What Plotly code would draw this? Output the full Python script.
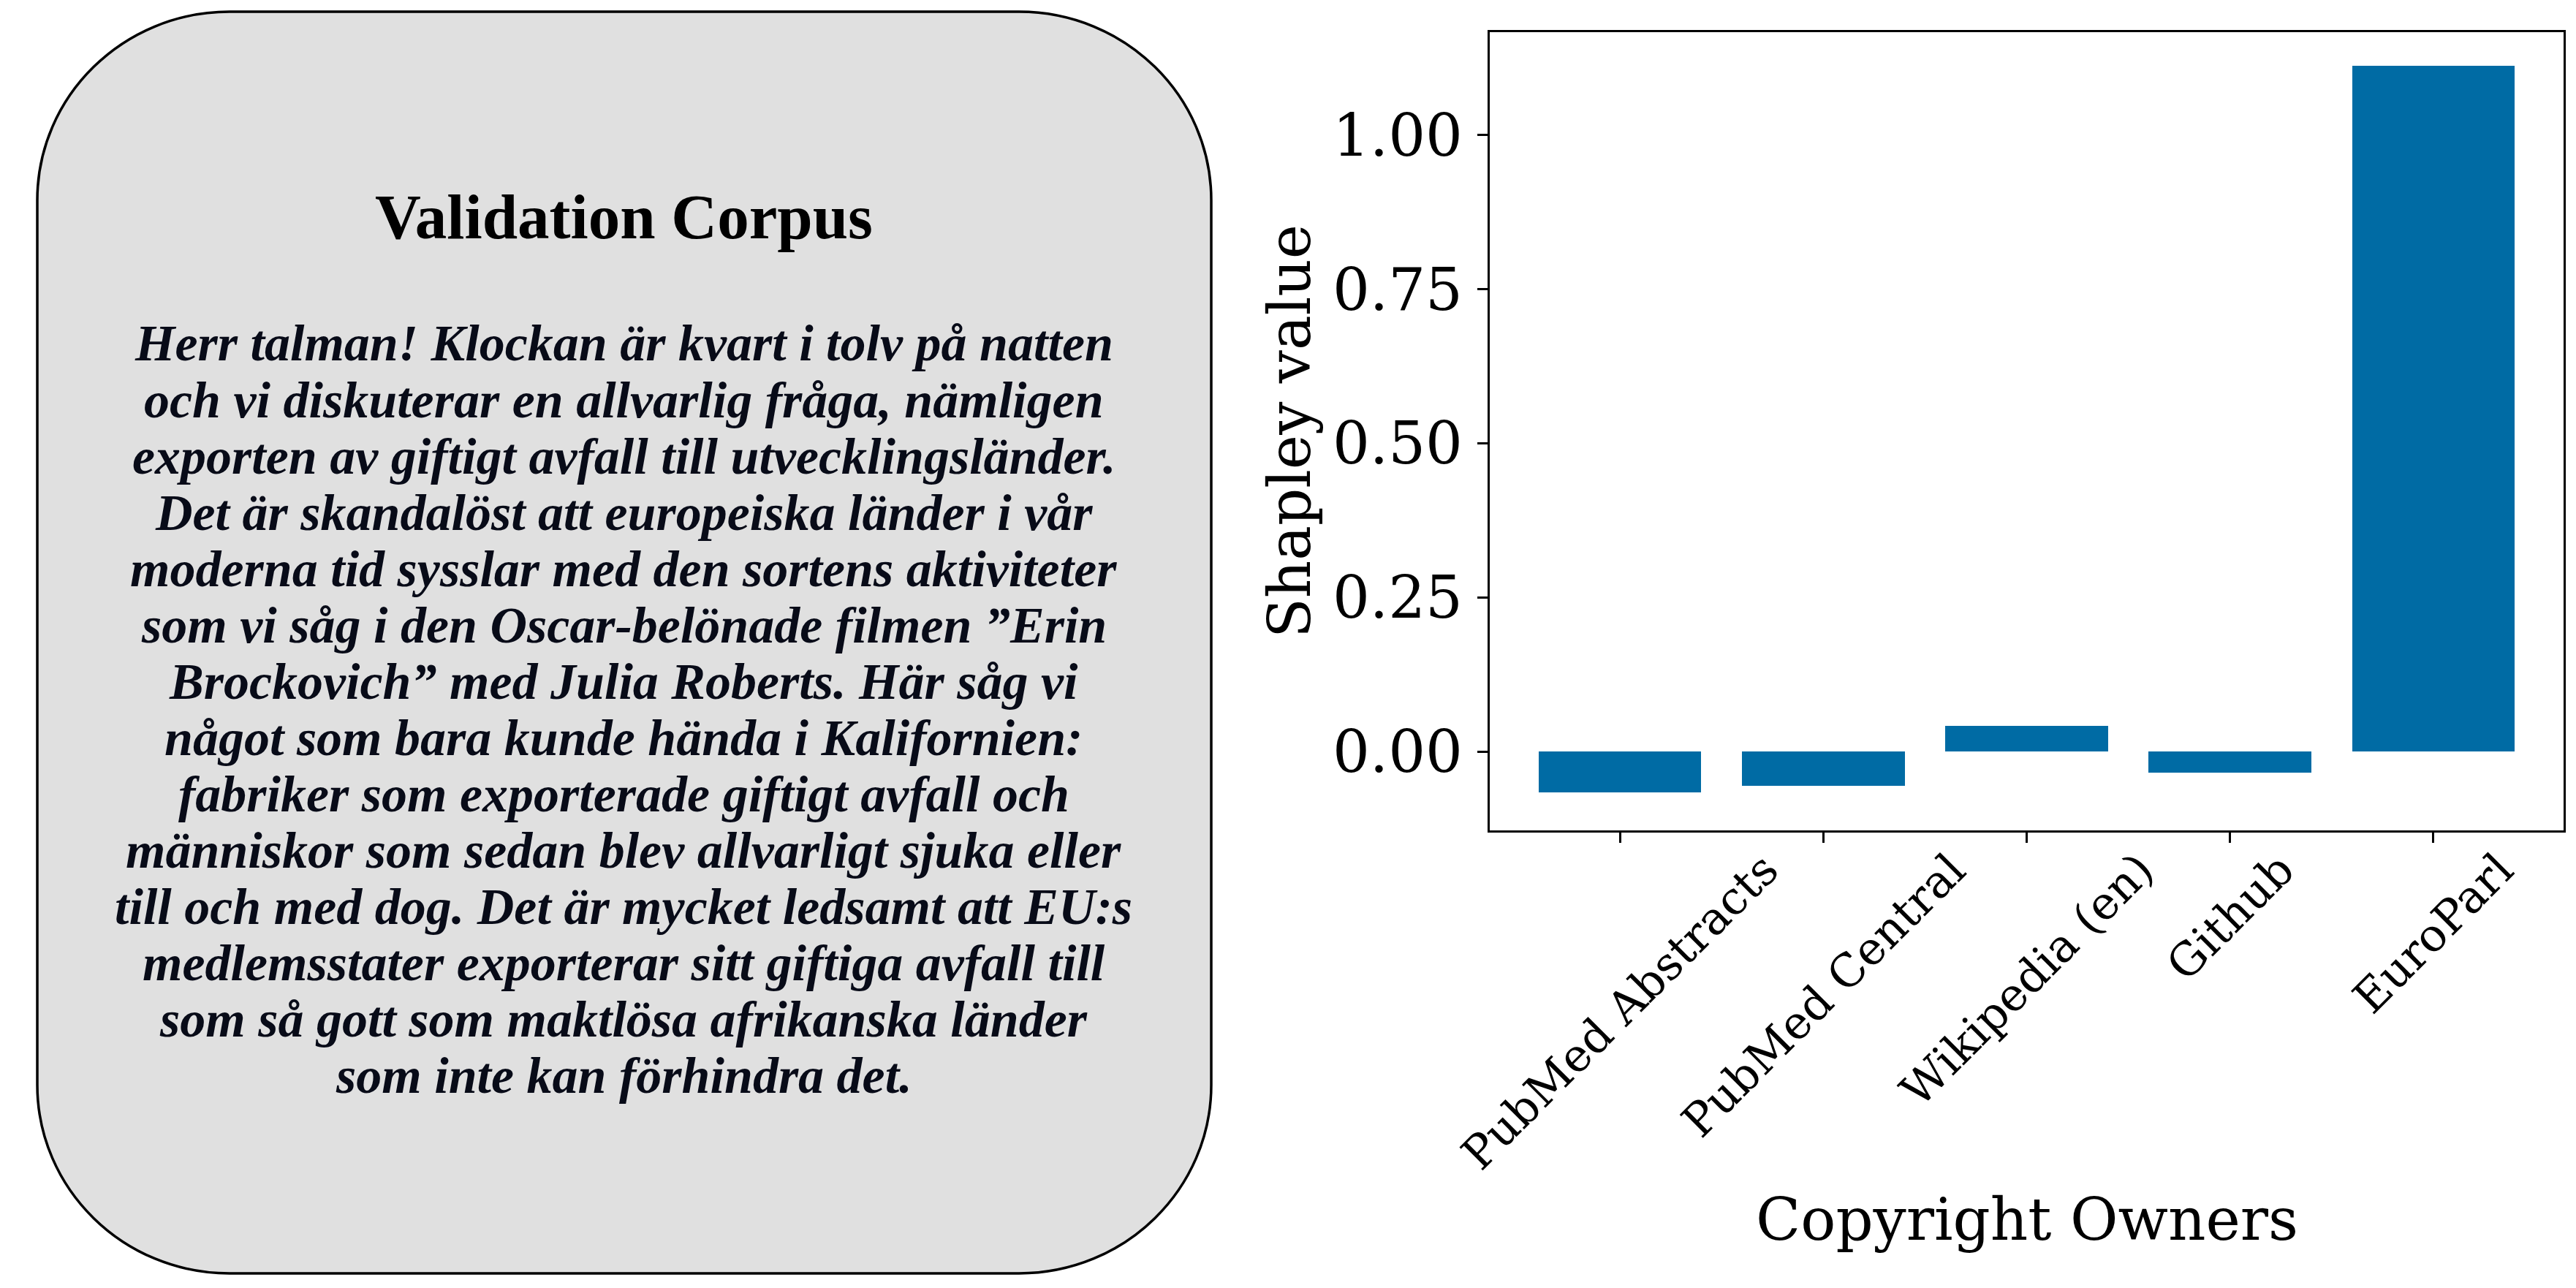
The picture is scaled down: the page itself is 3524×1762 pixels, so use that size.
import plotly.graph_objects as go

# data
owners = ["PubMed Abstracts", "PubMed Central", "Wikipedia (en)", "Github", "EuroParl"]
shapley = [-0.066, -0.056, 0.0415, -0.0345, 1.1125]
y_ticks = [0.0, 0.25, 0.5, 0.75, 1.0]

panel_title = "Validation Corpus"
corpus_lines = [
    "Herr talman! Klockan är kvart i tolv på natten",
    "och vi diskuterar en allvarlig fråga, nämligen",
    "exporten av giftigt avfall till utvecklingsländer.",
    "Det är skandalöst att europeiska länder i vår",
    "moderna tid sysslar med den sortens aktiviteter",
    "som vi såg i den Oscar-belönade filmen ”Erin",
    "Brockovich” med Julia Roberts. Här såg vi",
    "något som bara kunde hända i Kalifornien:",
    "fabriker som exporterade giftigt avfall och",
    "människor som sedan blev allvarligt sjuka eller",
    "till och med dog. Det är mycket ledsamt att EU:s",
    "medlemsstater exporterar sitt giftiga avfall till",
    "som så gott som maktlösa afrikanska länder",
    "som inte kan förhindra det.",
]

# page body has an 8px margin, so work in screen pixels and shift
OFF = 8
W, H = 3524 - 2 * OFF, 1762 - 2 * OFF
# plot area in screen pixels
L, R, T, B = 2038, 3507, 44, 1136


def px(x):
    return (x - L) / (R - L)


def py(y):
    return (B - y) / (B - T)


SERIF = "DejaVu Serif"
BAR_COLOR = "#006BA4"

fig = go.Figure(go.Bar(
    x=owners, y=shapley, width=0.8,
    marker=dict(color=BAR_COLOR, line=dict(width=0)),
))

# rounded grey text box on the left
bx0, bx1, by0, by1 = 51, 1657, 16, 1742
rx, ry = 263, 258
k = 0.5523


def P(x, y):
    return f"{px(x):.5f},{py(y):.5f}"


path = (
    f"M{P(bx0 + rx, by0)} L{P(bx1 - rx, by0)} "
    f"C{P(bx1 - rx + k * rx, by0)} {P(bx1, by0 + ry - k * ry)} {P(bx1, by0 + ry)} "
    f"L{P(bx1, by1 - ry)} "
    f"C{P(bx1, by1 - ry + k * ry)} {P(bx1 - rx + k * rx, by1)} {P(bx1 - rx, by1)} "
    f"L{P(bx0 + rx, by1)} "
    f"C{P(bx0 + rx - k * rx, by1)} {P(bx0, by1 - ry + k * ry)} {P(bx0, by1 - ry)} "
    f"L{P(bx0, by0 + ry)} "
    f"C{P(bx0, by0 + ry - k * ry)} {P(bx0 + rx - k * rx, by0)} {P(bx0 + rx, by0)} Z"
)
fig.add_shape(type="path", xref="paper", yref="paper", path=path,
              fillcolor="#e0e0e0", line=dict(color="black", width=3.5), layer="below")

cx = 853
fig.add_annotation(xref="paper", yref="paper", x=px(cx), y=py(297),
                   text=panel_title, showarrow=False, xanchor="center", yanchor="middle",
                   font=dict(family="Liberation Serif", size=87, color="black", weight="bold"))
for i, line in enumerate(corpus_lines):
    fig.add_annotation(xref="paper", yref="paper", x=px(cx), y=py(470 + 77 * i),
                       text=line, showarrow=False, xanchor="center", yanchor="middle",
                       font=dict(family="Liberation Serif", size=70, color="#080b18",
                                 weight="bold", style="italic"))

# rotated category labels, centred under the ticks like matplotlib
for name in owners:
    fig.add_annotation(xref="x", yref="paper", x=name, y=py(1150),
                       text=name, showarrow=False, textangle=-45,
                       xanchor="center", yanchor="top",
                       font=dict(family=SERIF, size=62, color="black"))

fig.add_annotation(xref="paper", yref="paper", x=0.5, y=py(1668),
                   text="Copyright Owners", showarrow=False,
                   xanchor="center", yanchor="middle",
                   font=dict(family=SERIF, size=80, color="black"))
fig.add_annotation(xref="paper", yref="paper", x=px(1764), y=0.5,
                   text="Shapley value", showarrow=False, textangle=-90,
                   xanchor="center", yanchor="middle",
                   font=dict(family=SERIF, size=80, color="black"))

axis_common = dict(showline=True, mirror=True, linecolor="black", linewidth=3,
                   ticks="outside", ticklen=14, tickwidth=3, tickcolor="black",
                   showgrid=False, zeroline=False)

fig.update_xaxes(range=[-0.64, 4.64], showticklabels=False, **axis_common)
fig.update_yaxes(range=[-0.128, 1.167], tickvals=y_ticks, tickformat=".2f",
                 tickfont=dict(family=SERIF, size=80, color="black"),
                 ticklabelstandoff=4, **axis_common)

fig.update_layout(
    width=W, height=H,
    margin=dict(l=L - OFF, r=(W + OFF) - R, t=T - OFF, b=(H + OFF) - B, autoexpand=False),
    paper_bgcolor="white", plot_bgcolor="white",
    showlegend=False, bargap=0,
)

fig.write_html("out.html")
